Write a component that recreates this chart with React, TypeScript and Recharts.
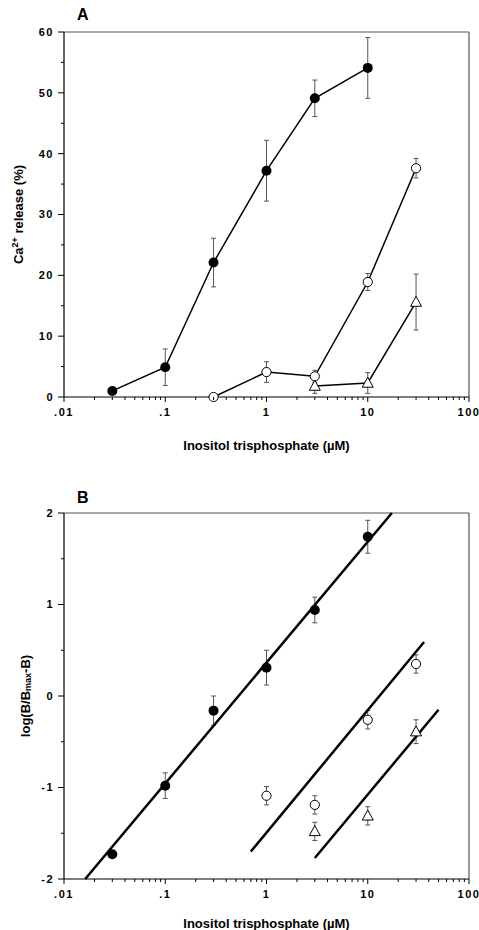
import React from 'react';
import { ScatterChart, Scatter, XAxis, YAxis, ErrorBar, ReferenceLine, Label } from 'recharts';

// ---------- ticks ----------
const xMajorTicks = [0.01, 0.1, 1, 10, 100];
const xTickLabels = ['.01', '.1', '1', '10', '100'];
const xAllTicks = [
  0.01, 0.02, 0.03, 0.04, 0.05, 0.06, 0.07, 0.08, 0.09,
  0.1, 0.2, 0.3, 0.4, 0.5, 0.6, 0.7, 0.8, 0.9,
  1, 2, 3, 4, 5, 6, 7, 8, 9,
  10, 20, 30, 40, 50, 60, 70, 80, 90,
  100,
];
const aYAllTicks = [0, 5, 10, 15, 20, 25, 30, 35, 40, 45, 50, 55, 60];
const aYMajorTicks = [0, 10, 20, 30, 40, 50, 60];
const aYTickLabels = ['0', '10', '20', '30', '40', '50', '60'];
const bYAllTicks = [-2, -1.5, -1, -0.5, 0, 0.5, 1, 1.5, 2];
const bYMajorTicks = [-2, -1, 0, 1, 2];
const bYTickLabels = ['-2', '-1', '0', '1', '2'];

// ---------- panel A data ----------
const aFilledX = [0.03, 0.1, 0.3, 1, 3, 10];
const aFilledY = [1.0, 4.9, 22.1, 37.2, 49.1, 54.1];
const aFilledErr = [0, 3, 4, 5, 3, 5];
const aOpenX = [0.3, 1, 3, 10, 30];
const aOpenY = [0, 4.1, 3.4, 18.9, 37.6];
const aOpenErr = [0, 1.7, 1.0, 1.4, 1.6];
const aTriX = [3, 10, 30];
const aTriY = [1.8, 2.3, 15.6];
const aTriErr = [1.2, 1.7, 4.6];

// ---------- panel B data ----------
const bFilledX = [0.03, 0.1, 0.3, 1, 3, 10];
const bFilledY = [-1.73, -0.98, -0.16, 0.31, 0.94, 1.74];
const bFilledErr = [0, 0.14, 0.16, 0.19, 0.14, 0.18];
const bOpenX = [1, 3, 10, 30];
const bOpenY = [-1.09, -1.19, -0.26, 0.35];
const bOpenErr = [0.1, 0.1, 0.1, 0.1];
const bTriX = [3, 10, 30];
const bTriY = [-1.48, -1.31, -0.39];
const bTriErr = [0.1, 0.1, 0.13];

// regression lines (end points)
const bFitFilledX = [0.0162, 17.3];
const bFitFilledY = [-2, 2];
const bFitOpenX = [0.7, 36];
const bFitOpenY = [-1.7, 0.59];
const bFitTriX = [3.0, 50];
const bFitTriY = [-1.77, -0.15];

const rows = (xs: number[], ys: number[], errs?: number[]) =>
  xs.map((x, i) => ({ x, y: ys[i], err: errs ? errs[i] : 0 }));

const FONT = 'Arial, "Liberation Sans", Helvetica, sans-serif';
const TS = 5; // tick size
const TM = 6; // tick margin

const tickText: React.CSSProperties = {
  fontFamily: FONT,
  fontWeight: 700,
  fontSize: 11,
  letterSpacing: 1.5,
  fill: '#000',
};
const labelText: React.CSSProperties = {
  fontFamily: FONT,
  fontWeight: 700,
  fontSize: 13,
  fill: '#000',
};

const makeXTick = () => (props: any) => {
  const { x, y, payload } = props;
  const v = payload.value;
  const idx = xMajorTicks.indexOf(v);
  const axisY = y - TS - TM;
  const len = idx >= 0 ? 5 : 3;
  return (
    <g>
      <line x1={x} y1={axisY} x2={x} y2={axisY + len} stroke="#000" strokeWidth={1} />
      {idx >= 0 && (
        <text x={x} y={y} dy="0.71em" textAnchor="middle" style={tickText}>
          {xTickLabels[idx]}
        </text>
      )}
    </g>
  );
};

const makeYTick = (majors: number[], labels: string[]) => (props: any) => {
  const { x, y, payload } = props;
  const v = payload.value;
  const idx = majors.indexOf(v);
  const axisX = x + TS + TM;
  const len = idx >= 0 ? 6 : 3;
  return (
    <g>
      <line x1={axisX - len} y1={y} x2={axisX} y2={y} stroke="#000" strokeWidth={1} />
      {idx >= 0 && (
        <text x={axisX - 10} y={y} dy="0.355em" textAnchor="end" style={tickText}>
          {labels[idx]}
        </text>
      )}
    </g>
  );
};

const FilledCircle = (p: any) => <circle cx={p.cx} cy={p.cy} r={5} fill="#000" />;
const OpenCircle = (p: any) => (
  <circle cx={p.cx} cy={p.cy} r={4.6} fill="#fff" stroke="#000" strokeWidth={1} />
);
const Triangle = (p: any) => {
  const { cx, cy } = p;
  return (
    <path
      d={`M${cx},${cy - 5.8} L${cx + 5.5},${cy + 4.2} L${cx - 5.5},${cy + 4.2} Z`}
      fill="#fff"
      stroke="#000"
      strokeWidth={1}
    />
  );
};
const NoShape = () => <g />;

const XLabel = (offset: number) => (props: any) => {
  const { x, y, width } = props.viewBox;
  return (
    <text x={x + width / 2} y={y + offset} textAnchor="middle" style={labelText}>
      Inositol trisphosphate (µM)
    </text>
  );
};

const YLabelA = (props: any) => {
  const { y, height } = props.viewBox;
  const cx = 23;
  const cy = y + height / 2;
  return (
    <text x={cx} y={cy} textAnchor="middle" transform={`rotate(-90, ${cx}, ${cy})`} style={labelText}>
      Ca
      <tspan fontSize={9} dy={-5}>2+</tspan>
      <tspan dy={5}> release (%)</tspan>
    </text>
  );
};

const YLabelB = (props: any) => {
  const { y, height } = props.viewBox;
  const cx = 30;
  const cy = y + height / 2;
  return (
    <text x={cx} y={cy} textAnchor="middle" transform={`rotate(-90, ${cx}, ${cy})`} style={labelText}>
      log(B/B
      <tspan fontSize={9} dy={1}>max</tspan>
      <tspan dy={-1}>-B)</tspan>
    </text>
  );
};

const errProps = { dataKey: 'err', direction: 'y' as const, width: 2.5, stroke: '#555', strokeWidth: 1 };

const ChartA = () => (
  <ScatterChart width={479} height={465} margin={{ top: 32, right: 10, bottom: 0, left: 0 }}>
    <XAxis
      type="number"
      dataKey="x"
      scale="log"
      domain={[0.01, 100]}
      ticks={xAllTicks}
      interval={0}
      height={68}
      tickSize={TS}
      tickMargin={TM}
      tickLine={false}
      tick={makeXTick()}
      axisLine={{ stroke: '#000', strokeWidth: 1.2 }}
    >
      <Label content={XLabel(53)} />
    </XAxis>
    <YAxis
      type="number"
      dataKey="y"
      domain={[0, 60]}
      ticks={aYAllTicks}
      interval={0}
      width={64}
      tickSize={TS}
      tickMargin={TM}
      tickLine={false}
      tick={makeYTick(aYMajorTicks, aYTickLabels)}
      axisLine={{ stroke: '#000', strokeWidth: 1.2 }}
    >
      <Label content={YLabelA} />
    </YAxis>
    <ReferenceLine y={60} stroke="#555" strokeWidth={1.2} />
    <ReferenceLine x={100} stroke="#555" strokeWidth={1.2} />
    <Scatter data={rows(aFilledX, aFilledY, aFilledErr)} line={{ stroke: '#000', strokeWidth: 1.5 }} shape={FilledCircle} isAnimationActive={false}>
      <ErrorBar {...errProps} />
    </Scatter>
    <Scatter data={rows(aOpenX, aOpenY, aOpenErr)} line={{ stroke: '#000', strokeWidth: 1.5 }} shape={OpenCircle} isAnimationActive={false}>
      <ErrorBar {...errProps} />
    </Scatter>
    <Scatter data={rows(aTriX, aTriY, aTriErr)} line={{ stroke: '#000', strokeWidth: 1.5 }} shape={Triangle} isAnimationActive={false}>
      <ErrorBar {...errProps} />
    </Scatter>
  </ScatterChart>
);

const ChartB = () => (
  <ScatterChart width={479} height={465} margin={{ top: 48, right: 10, bottom: 0, left: 0 }}>
    <XAxis
      type="number"
      dataKey="x"
      scale="log"
      domain={[0.01, 100]}
      ticks={xAllTicks}
      interval={0}
      height={51}
      tickSize={TS}
      tickMargin={TM}
      tickLine={false}
      tick={makeXTick()}
      axisLine={{ stroke: '#000', strokeWidth: 1.2 }}
    >
      <Label content={XLabel(48.5)} />
    </XAxis>
    <YAxis
      type="number"
      dataKey="y"
      domain={[-2, 2]}
      ticks={bYAllTicks}
      interval={0}
      width={64}
      tickSize={TS}
      tickMargin={TM}
      tickLine={false}
      tick={makeYTick(bYMajorTicks, bYTickLabels)}
      axisLine={{ stroke: '#000', strokeWidth: 1.2 }}
    >
      <Label content={YLabelB} />
    </YAxis>
    <ReferenceLine y={2} stroke="#555" strokeWidth={1.2} />
    <ReferenceLine x={100} stroke="#555" strokeWidth={1.2} />
    <Scatter data={rows(bFitFilledX, bFitFilledY)} line={{ stroke: '#000', strokeWidth: 2.5 }} shape={NoShape} isAnimationActive={false} />
    <Scatter data={rows(bFitOpenX, bFitOpenY)} line={{ stroke: '#000', strokeWidth: 2.5 }} shape={NoShape} isAnimationActive={false} />
    <Scatter data={rows(bFitTriX, bFitTriY)} line={{ stroke: '#000', strokeWidth: 2.5 }} shape={NoShape} isAnimationActive={false} />
    <Scatter data={rows(bFilledX, bFilledY, bFilledErr)} shape={FilledCircle} isAnimationActive={false}>
      <ErrorBar {...errProps} />
    </Scatter>
    <Scatter data={rows(bOpenX, bOpenY, bOpenErr)} shape={OpenCircle} isAnimationActive={false}>
      <ErrorBar {...errProps} />
    </Scatter>
    <Scatter data={rows(bTriX, bTriY, bTriErr)} shape={Triangle} isAnimationActive={false}>
      <ErrorBar {...errProps} />
    </Scatter>
  </ScatterChart>
);

const titleStyle: React.CSSProperties = {
  position: 'absolute',
  fontFamily: FONT,
  fontWeight: 700,
  fontSize: 16,
  lineHeight: '16px',
  color: '#000',
};

export default function App() {
  return (
    <div style={{ position: 'absolute', left: 0, top: 0, width: 479, height: 930, background: '#fff', overflow: 'hidden' }}>
      <div style={{ position: 'absolute', left: 0, top: 0 }}>
        <ChartA />
      </div>
      <div style={{ position: 'absolute', left: 0, top: 465 }}>
        <ChartB />
      </div>
      <div style={{ ...titleStyle, left: 77, top: 6.5 }}>A</div>
      <div style={{ ...titleStyle, left: 77, top: 489.5 }}>B</div>
    </div>
  );
}
